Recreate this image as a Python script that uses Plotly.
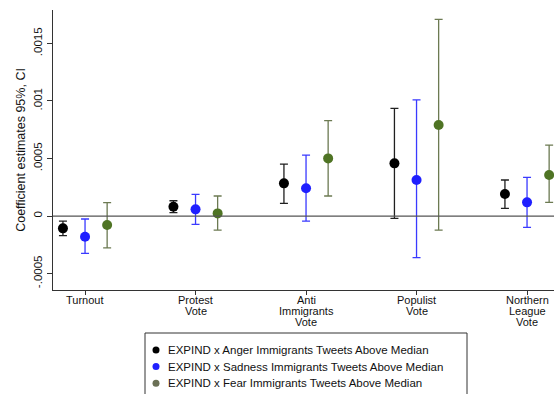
import plotly.graph_objects as go

categories = ["Turnout", "Protest<br>Vote", "Anti<br>Immigrants<br>Vote", "Populist<br>Vote", "Northern<br>League<br>Vote"]
series_names = [
    "EXPIND x Anger Immigrants Tweets Above Median",
    "EXPIND x Sadness Immigrants Tweets Above Median",
    "EXPIND x Fear Immigrants Tweets Above Median",
]
anger_est = [-0.000107, 0.000081, 0.000284, 0.000458, 0.000191]
anger_lo = [-0.000171, 0.000029, 0.000110, -0.000020, 0.000067]
anger_hi = [-0.000044, 0.000133, 0.000452, 0.000936, 0.000313]
sad_est = [-0.000180, 0.000058, 0.000241, 0.000313, 0.000119]
sad_lo = [-0.000325, -0.000072, -0.000044, -0.000362, -0.000098]
sad_hi = [-0.000026, 0.000188, 0.000530, 0.001009, 0.000336]
fear_est = [-0.000078, 0.000023, 0.000501, 0.000791, 0.000357]
fear_lo = [-0.000276, -0.000122, 0.000174, -0.000122, 0.000119]
fear_hi = [0.000116, 0.000174, 0.000829, 0.001710, 0.000617]

y_ticks = [-0.0005, 0, 0.0005, 0.001, 0.0015]
y_ticklabels = ["-.0005", "0", ".0005", ".001", ".0015"]

marker_colors = ["#000000", "#1f1fff", "#4f7424"]
bar_colors = ["#202020", "#3a3aff", "#6c7a52"]
legend_colors = ["#000000", "#2020ff", "#6a7055"]
offsets = [-0.2, 0.0, 0.2]

W, H = 554, 394
ML, MT, MB = 53, 10, 104
PW, PH = W - ML, H - MT - MB


def px_to_paper(px, py):
    return (px - ML) / PW, (H - MB - py) / PH


fig = go.Figure()
for name, est, lo, hi, mc, bc, off in zip(
    series_names,
    [anger_est, sad_est, fear_est],
    [anger_lo, sad_lo, fear_lo],
    [anger_hi, sad_hi, fear_hi],
    marker_colors, bar_colors, offsets,
):
    xs = [i + off for i in range(len(categories))]
    fig.add_trace(go.Scatter(
        x=xs, y=est, mode="markers", name=name, showlegend=False,
        marker=dict(color=mc, size=10),
        error_y=dict(
            type="data", symmetric=False,
            array=[h - e for h, e in zip(hi, est)],
            arrayminus=[e - l for e, l in zip(est, lo)],
            color=bc, thickness=1.3, width=4,
        ),
    ))

fig.add_hline(y=0, line=dict(color="#555555", width=1.2))

# multi-line category labels with tight line spacing
for i, cat in enumerate(categories):
    for j, line in enumerate(cat.split("<br>")):
        fig.add_annotation(
            x=i, y=0, xref="x", yref="paper", text=line, showarrow=False,
            yanchor="middle", xanchor="center", yshift=-(10 + 10.8 * j),
            font=dict(size=11, color="#111111"),
        )

# legend box
x0, y0 = px_to_paper(145, 333)
x1, y1 = px_to_paper(467, 400)
fig.add_shape(type="rect", xref="paper", yref="paper", x0=x0, x1=x1, y0=y1, y1=y0,
              line=dict(color="#333333", width=1), fillcolor="white", layer="above")
for k, (name, col) in enumerate(zip(series_names, legend_colors)):
    cy = 350 + 16.6 * k
    mx, my = px_to_paper(156, cy)
    fig.add_shape(type="circle", xref="paper", yref="paper", xsizemode="pixel", ysizemode="pixel",
                  xanchor=mx, yanchor=my, x0=-3.5, x1=3.5, y0=-3.5, y1=3.5,
                  fillcolor=col, line=dict(color=col, width=0), layer="above")
    tx, ty = px_to_paper(166, cy)
    fig.add_annotation(x=tx, y=ty, xref="paper", yref="paper", text=name, showarrow=False,
                       xanchor="left", yanchor="middle", font=dict(size=11.5, color="#111111"))

fig.update_layout(
    width=W, height=H,
    margin=dict(l=ML, r=0, t=MT, b=MB),
    paper_bgcolor="white", plot_bgcolor="white",
    font=dict(family="Liberation Sans, Arial, sans-serif", size=11, color="#111111"),
    showlegend=False,
    xaxis=dict(
        range=[-0.29, 4.244], tickmode="array",
        tickvals=list(range(len(categories))), ticktext=[""] * len(categories),
        showgrid=False, zeroline=False, showline=True, linecolor="#333333", linewidth=1,
        ticks="outside", ticklen=4, tickcolor="#333333",
    ),
    yaxis=dict(
        range=[-0.000643, 0.001791], tickmode="array",
        tickvals=y_ticks, ticktext=y_ticklabels, tickangle=-90,
        showgrid=False, zeroline=False, showline=True, linecolor="#333333", linewidth=1,
        ticks="outside", ticklen=5, tickcolor="#333333",
        tickfont=dict(size=11.5),
        title=dict(text="Coefficient estimates 95%, CI", font=dict(size=12.5), standoff=4),
    ),
)

fig.write_html(
    "out.html",
    config={"displayModeBar": False},
    post_script="document.body.style.margin='0';document.body.style.overflow='hidden';",
)
